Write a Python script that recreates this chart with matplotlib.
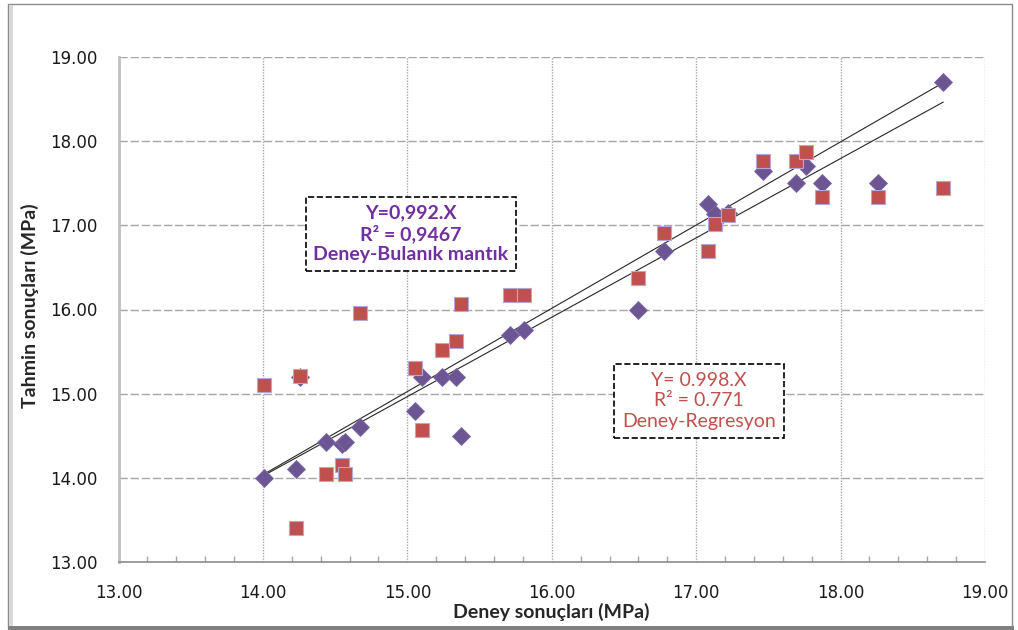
import numpy as np
import matplotlib
matplotlib.use("Agg")
import matplotlib.pyplot as plt
from matplotlib.patches import Rectangle
from matplotlib.ticker import MultipleLocator, FormatStrFormatter

plt.rcParams["font.family"] = ["Lato", "DejaVu Sans"]

# ------------------------------------------------------------
# Data
# ------------------------------------------------------------
deney = [14.01, 14.23, 14.26, 14.44, 14.55, 14.57, 14.67, 15.05, 15.10, 15.24,
         15.34, 15.37, 15.71, 15.81, 16.60, 16.78, 17.08, 17.13, 17.22, 17.46,
         17.69, 17.76, 17.87, 18.26, 18.71]
bulanik = [14.00, 14.10, 15.20, 14.42, 14.40, 14.42, 14.60, 14.80, 15.20, 15.20,
           15.20, 14.50, 15.70, 15.76, 16.00, 16.70, 17.25, 17.13, 17.15, 17.65,
           17.50, 17.70, 17.50, 17.50, 18.70]
regresyon = [15.10, 13.40, 15.21, 14.04, 14.15, 14.04, 15.96, 15.31, 14.57, 15.52,
             15.63, 16.07, 16.17, 16.17, 16.38, 16.91, 16.70, 17.02, 17.12, 17.77,
             17.77, 17.87, 17.34, 17.34, 17.44]

# trend lines (slope, intercept) as drawn in the chart
trend_slope = [0.989, 0.943]
trend_intercept = [0.19, 0.82]

W, H = 1018, 630
PURPLE = "#6B5593"
RED = "#C0504D"


def fx(px):
    return px / W


def fy(py):
    return 1 - py / H


fig = plt.figure(figsize=(W / 100, H / 100), dpi=100)

# chart frame with shadow
fig.patches.append(Rectangle((fx(8), fy(628)), fx(1004), 624 / H, transform=fig.transFigure,
                             fc="white", ec="#8C8C8C", lw=1.0, zorder=-5))
fig.patches.append(Rectangle((fx(9), fy(627)), fx(4), 622 / H, transform=fig.transFigure,
                             fc="#D9D9D9", ec="none", zorder=-4))
fig.patches.append(Rectangle((fx(8), fy(630)), fx(1006), 4 / H, transform=fig.transFigure,
                             fc="#808080", ec="none", zorder=-4))

ax = fig.add_axes([fx(118.5), fy(562), (985 - 118.5) / W, (562 - 57) / H])
ax.set_facecolor("none")
ax.set_zorder(2)

ax.set_xlim(13, 19)
ax.set_ylim(13, 19)
ax.xaxis.set_major_locator(MultipleLocator(1))
ax.xaxis.set_minor_locator(MultipleLocator(0.2))
ax.yaxis.set_major_locator(MultipleLocator(1))
ax.xaxis.set_major_formatter(FormatStrFormatter("%.2f"))
ax.yaxis.set_major_formatter(FormatStrFormatter("%.2f"))

# grid
for v in range(14, 20):
    ax.axvline(v, color="#A6A6A6", lw=1.0, ls=(0, (1, 1)), zorder=1)
for v in range(14, 20):
    ax.axhline(v, color="#A6A6A6", lw=1.0, ls=(0, (6, 2)), zorder=1)

for side in ["top", "right"]:
    ax.spines[side].set_visible(False)
ax.spines["left"].set_color("#BFBFBF")
ax.spines["left"].set_linewidth(2.0)
ax.spines["bottom"].set_color("#8C8C8C")
ax.spines["bottom"].set_linewidth(1.2)

ax.tick_params(axis="x", which="major", length=0, pad=16, labelsize=12, labelcolor="#1A1A1A")
ax.tick_params(axis="x", which="minor", direction="in", length=4, color="#A6A6A6", width=1)
ax.tick_params(axis="y", which="major", length=0, pad=15, labelsize=12, labelcolor="#1A1A1A")
for lab in ax.get_xticklabels() + ax.get_yticklabels():
    lab.set_family(["DejaVu Sans"])

# trend lines
x_line = np.array([min(deney), max(deney)])
for s, b in zip(trend_slope, trend_intercept):
    ax.plot(x_line, s * x_line + b, color="#262626", lw=0.8, zorder=2)

# markers
ax.plot(deney, bulanik, ls="none", marker="D", ms=9.3, mfc=PURPLE, mec="#7F6BA3",
        mew=0.6, zorder=3)
ax.plot(deney, regresyon, ls="none", marker="s", ms=9.6, mfc=RED, mec="#B4A7D6",
        mew=0.8, zorder=4)

# axis titles
fig.text(fx(551), fy(612), "Deney sonuçları (MPa)", ha="center", va="center",
         fontsize=14, fontweight="bold", color="#262626")
fig.text(fx(30), fy(306), "Tahmin sonuçları (MPa)", ha="center", va="center",
         rotation=90, fontsize=14, fontweight="bold", color="#262626")

# equation boxes
fig.text(fx(411), fy(234), "Y=0,992.X\nR² = 0,9467\nDeney-Bulanık mantık",
         ha="center", va="center", multialignment="center", fontsize=14,
         fontweight="bold", color="#7030A0", linespacing=1.2,
         bbox=dict(boxstyle="square,pad=0.38", fc="white", ec="black", ls="--", lw=1.2))
fig.text(fx(699), fy(401), "Y= 0.998.X\nR² = 0.771\nDeney-Regresyon",
         ha="center", va="center", multialignment="center", fontsize=14,
         color=RED, linespacing=1.25,
         bbox=dict(boxstyle="square,pad=0.4", fc="white", ec="black", ls="--", lw=1.2))

fig.savefig("out.png", dpi=100)
